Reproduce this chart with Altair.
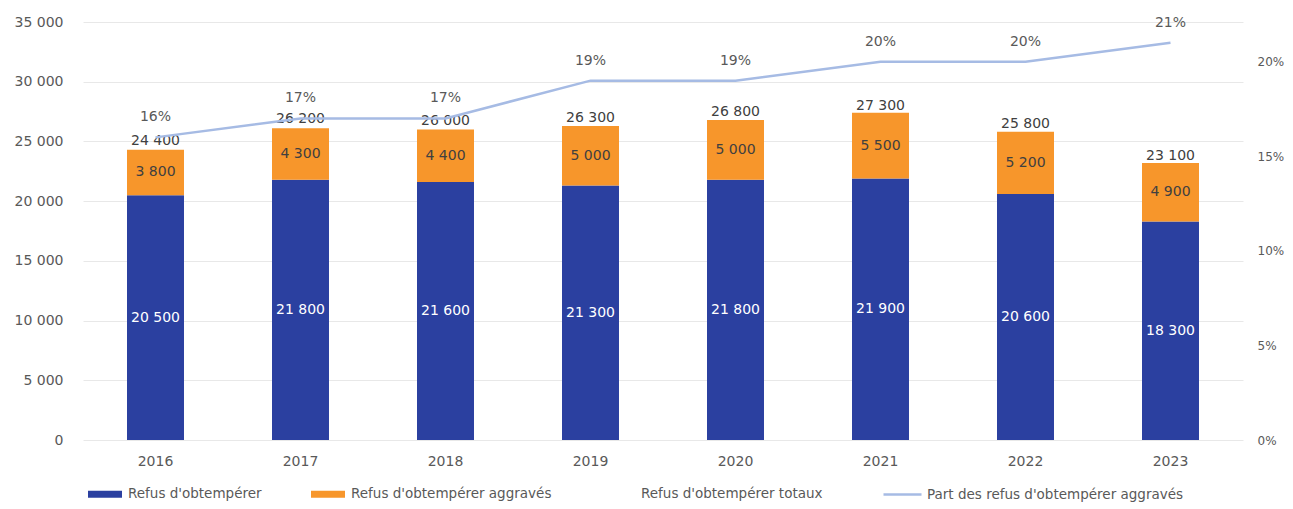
import altair as alt
import pandas as pd

years = ["2016", "2017", "2018", "2019", "2020", "2021", "2022", "2023"]
simple = [20500, 21800, 21600, 21300, 21800, 21900, 20600, 18300]
aggravated = [3800, 4300, 4400, 5000, 5000, 5500, 5200, 4900]
totals = [24400, 26200, 26000, 26300, 26800, 27300, 25800, 23100]
share = [0.16, 0.17, 0.17, 0.19, 0.19, 0.20, 0.20, 0.21]

S1 = "Refus d'obtempérer"
S2 = "Refus d'obtempérer aggravés"
S3 = "Refus d'obtempérer totaux"
S4 = "Part des refus d'obtempérer aggravés"

BLUE = "#2b40a0"
ORANGE = "#f7962b"
LINEC = "#a6bbe4"
GRAY = "#595959"
DARK = "#404040"
FONT = "DejaVu Sans"


def fmt(v):
    return f"{v:,}".replace(",", " ")


rows = []
for i, yr in enumerate(years):
    rows.append(dict(year=yr, series=S1, lo=0, hi=simple[i], label=fmt(simple[i])))
    rows.append(dict(year=yr, series=S2, lo=simple[i], hi=simple[i] + aggravated[i],
                     label=fmt(aggravated[i])))
bars_df = pd.DataFrame(rows)
bars_df["mid"] = (bars_df["lo"] + bars_df["hi"]) / 2

tot_df = pd.DataFrame({"year": years, "total": totals, "tlabel": [fmt(t) for t in totals]})
line_df = pd.DataFrame({"year": years, "pct": share, "lname": [S4] * len(years),
                        "plabel": [f"{round(p * 100)}%" for p in share]})

fill_scale = alt.Scale(domain=[S1, S2, S3], range=[BLUE, ORANGE, "rgba(0,0,0,0)"])
stroke_scale = alt.Scale(domain=[S4], range=[LINEC])

fill_legend = alt.Legend(
    title=None, orient="none", direction="horizontal", columns=3,
    legendX=5, legendY=455, labelFontSize=13.5, labelColor=GRAY, labelFont=FONT,
    labelOffset=6, columnPadding=49, symbolSize=1156, symbolStrokeWidth=0,
    symbolType="M-1,-0.2H1V0.2H-1Z", symbolOpacity=1, labelLimit=500,
)
stroke_legend = alt.Legend(
    title=None, orient="none", direction="horizontal",
    legendX=799, legendY=452, labelFontSize=13.5, labelColor=GRAY, labelFont=FONT,
    labelOffset=4, symbolSize=1444, symbolStrokeWidth=2.5, symbolType="stroke",
    labelLimit=500,
)

x = alt.X("year:O", scale=alt.Scale(paddingInner=0.607, paddingOuter=0.3035),
          axis=alt.Axis(title=None, labelAngle=0, ticks=False, domain=False, labelPadding=14,
                        labelFontSize=14, labelColor=GRAY, labelFont=FONT, grid=False))

yleft_scale = alt.Scale(domain=[0, 35000], nice=False, zero=True)


def yleft(field):
    return alt.Y(field, scale=yleft_scale, title=None,
                 axis=alt.Axis(title=None,
                               values=[0, 5000, 10000, 15000, 20000, 25000, 30000, 35000],
                               labelExpr="replace(format(datum.value, ','), ',', ' ')",
                               ticks=False, domain=False, gridColor="#e8e8e8", labelPadding=20,
                               labelFontSize=14, labelColor=GRAY, labelFont=FONT))


yright_scale = alt.Scale(domain=[0, 0.221], nice=False, zero=True)


def yright(field):
    return alt.Y(field, scale=yright_scale, title=None,
                 axis=alt.Axis(title=None, orient="right", format=".0%",
                               values=[0, 0.05, 0.10, 0.15, 0.20], grid=False, ticks=False,
                               domain=False, labelPadding=14, labelFontSize=12,
                               labelColor=GRAY, labelFont=FONT))


bars = alt.Chart(bars_df).mark_bar().encode(
    x=x,
    y=yleft("lo:Q"),
    y2="hi:Q",
    fill=alt.Fill("series:N", scale=fill_scale, legend=fill_legend),
)
blue_txt = alt.Chart(bars_df).transform_filter(alt.datum.series == S1).mark_text(
    font=FONT, fontSize=14, color="white").encode(
    x=x, y=yleft("mid:Q"), text="label:N")
orange_txt = alt.Chart(bars_df).transform_filter(alt.datum.series == S2).mark_text(
    font=FONT, fontSize=14, color=DARK).encode(
    x=x, y=yleft("mid:Q"), text="label:N")
tot_txt = alt.Chart(tot_df).mark_text(font=FONT, fontSize=14, color=DARK, baseline="bottom",
                                      dy=-1).encode(
    x=x, y=yleft("total:Q"), text="tlabel:N")

left = alt.layer(bars, blue_txt, orange_txt, tot_txt)

line = alt.Chart(line_df).mark_line(strokeWidth=2.5).encode(
    x=x,
    y=yright("pct:Q"),
    stroke=alt.Stroke("lname:N", scale=stroke_scale, legend=stroke_legend),
)
pct_txt = alt.Chart(line_df).mark_text(font=FONT, fontSize=14, color=GRAY, dy=-20).encode(
    x=x, y=yright("pct:Q"), text="plabel:N")
right = alt.layer(line, pct_txt)

chart = alt.layer(left, right).resolve_scale(y="independent").properties(
    width=1160, height=418,
    padding={"left": 75, "top": 14, "right": 42, "bottom": 62},
    autosize=alt.AutoSizeParams(type="none"),
    background="white",
).configure_view(stroke=None)

chart.save("out.html", embed_options={"renderer": "svg", "actions": False})
